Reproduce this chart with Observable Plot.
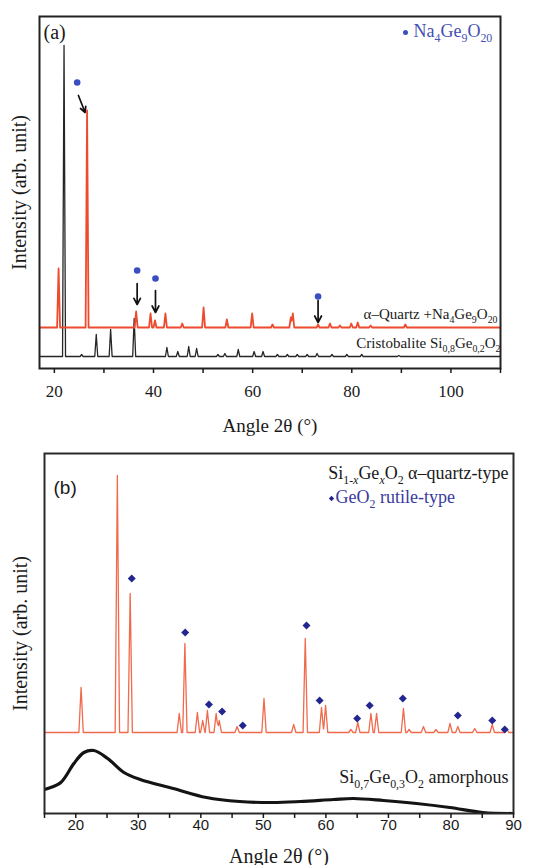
<!DOCTYPE html>
<html>
<head>
<meta charset="utf-8">
<script src="https://cdn.jsdelivr.net/npm/d3@7"></script>
<script src="https://cdn.jsdelivr.net/npm/@observablehq/plot@0.6"></script>
<style>
  html, body { margin: 0; padding: 0; background: #fff; width: 549px; height: 865px; overflow: hidden; }
  #chart svg { display: block; }
</style>
</head>
<body>
<div id="chart"></div>
<script>
// ---------- Panel (a) data ----------
const aDomain = [17, 110];
const aMajorTicks = [20, 40, 60, 80, 100];
const aMinorTicks = [30, 50, 70, 90, 110];
// Cristobalite Si0,8Ge0,2O2 (black trace)
const aCristoAngles  = [21.95, 25.5, 28.45, 31.35, 36.1, 42.7, 44.9, 47.1, 48.7, 53.0, 54.4, 57.1, 60.3, 62.1, 65.0, 67.0, 69.0, 71.0, 73.0, 76.0, 79.0, 82.0, 89.5];
const aCristoHeights = [311, 2, 22, 27, 38, 9, 5, 10, 8, 2, 3, 7, 5, 5, 2, 2, 2, 2, 3, 2, 2, 2, 1];
const aCristoBase = 12;
// alpha-Quartz + Na4Ge9O20 (red trace)
const aQuartzAngles  = [20.85, 26.6, 36.5, 39.4, 40.3, 42.4, 45.8, 50.1, 54.8, 59.9, 64.0, 67.7, 68.1, 73.2, 75.6, 77.6, 79.9, 81.2, 83.8, 90.8];
const aQuartzHeights = [59, 217, 16, 14, 7, 14, 4, 20, 8, 14, 3, 10, 14, 3, 4, 2, 4, 5, 2, 3];
const aQuartzBase = 41;
// Na4Ge9O20 markers and arrows
const aMarkerAngles = [24.6, 36.7, 40.4, 73.2];
const aMarkerLevels = [286, 98, 90, 72];
const aArrowX1 = [24.85, 36.7, 40.4, 73.2];
const aArrowY1 = [273, 85, 78, 68];
const aArrowX2 = [26.2, 36.7, 40.4, 73.2];
const aArrowY2 = [256, 64, 56, 46];

// ---------- Panel (b) data ----------
const bDomain = [15, 90];
const bMajorTicks = [20, 30, 40, 50, 60, 70, 80, 90];
const bMinorTicks = [15, 25, 35, 45, 55, 65, 75, 85];
// Crystalline pattern (red trace)
const bCrystAngles  = [20.85, 26.65, 28.7, 36.55, 37.45, 39.45, 40.3, 41.05, 42.45, 42.95, 45.8, 50.1, 54.85, 56.7, 59.3, 59.95, 64.0, 65.1, 67.2, 68.1, 72.4, 73.3, 75.6, 77.6, 79.85, 81.1, 83.8, 86.6, 88.9];
const bCrystHeights = [45, 257, 139, 19, 89, 20, 12, 22, 19, 12, 6, 34, 8, 94, 25, 27, 3, 10, 19, 19, 24, 3, 6, 3, 9, 6, 4, 8, 4];
const bCrystBase = 81;
// GeO2 rutile-type markers
const bRutileAngles = [28.95, 37.5, 41.3, 43.4, 46.7, 56.9, 59.0, 65.0, 67.0, 72.3, 81.1, 86.6, 88.6];
const bRutileLevels = [235, 181, 109, 102, 88, 188, 113, 95, 108, 115, 98, 93, 84];
// Si0,7Ge0,3O2 amorphous (black trace)
const bAmorphAngles = [15, 15.5, 17.6, 19.7, 21.3, 22.9, 25.1, 27.7, 30.3, 35.6, 40.9, 46.2, 51.5, 55.9, 61.2, 64.4, 69.2, 74.5, 79.8, 85.1, 90];
const bAmorphValues = [24, 25, 31, 50, 61, 63, 55, 41, 34, 25, 16, 12, 11, 12, 14, 15, 13, 10, 6, 1, 0];

// ---------- helpers ----------
const SERIF = "Liberation Serif, Times New Roman, Times, serif";
const SANS = "Liberation Sans, Arial, Helvetica, sans-serif";

function trace(angles, heights, base, hw, domain) {
  const xs = new Set(domain);
  angles.forEach(a => { xs.add(a - hw); xs.add(a); xs.add(a + hw); });
  return [...xs].filter(x => x >= domain[0] && x <= domain[1]).sort((p, q) => p - q)
    .map(x => ({x, y: base + d3.sum(angles, (a, i) => Math.max(0, heights[i] * (1 - Math.abs(x - a) / hw)))}));
}

function label(text, o) {
  return Plot.text([text], {text: d => d, lineAnchor: "bottom", fontFamily: SERIF, ...o});
}

const NS = "http://www.w3.org/2000/svg";
function applySubscripts(svg) {
  svg.querySelectorAll("text").forEach(t => {
    const s = t.textContent;
    if (!s.includes("_{")) return;
    const fs = parseFloat(getComputedStyle(t).fontSize) || 16;
    while (t.firstChild) t.removeChild(t.firstChild);
    const shift = 0.28 * fs;
    let down = false;
    s.split(/(_\{[^}]*\})/).forEach(p => {
      if (!p) return;
      const ts = document.createElementNS(NS, "tspan");
      if (p.startsWith("_{")) {
        ts.setAttribute("font-size", (0.66 * fs).toFixed(1) + "px");
        ts.setAttribute("dy", down ? 0 : shift);
        down = true;
        p.slice(2, -1).split(/(x)/).forEach(q => {
          if (!q) return;
          const inner = document.createElementNS(NS, "tspan");
          if (q === "x") inner.setAttribute("font-style", "italic");
          inner.textContent = q;
          ts.appendChild(inner);
        });
      } else {
        ts.setAttribute("dy", down ? -shift : 0);
        down = false;
        ts.textContent = p;
      }
      t.appendChild(ts);
    });
  });
}

// ---------- Panel (a) ----------
const red = "#ee4a2e";
const plotA = Plot.plot({
  width: 549, height: 437,
  marginTop: 16, marginLeft: 39, marginRight: 49, marginBottom: 69,
  x: {domain: aDomain},
  y: {domain: [0, 352], axis: null},
  style: {fontFamily: SERIF, background: "white", color: "#1a1a1a"},
  marks: [
    Plot.line(trace(aCristoAngles, aCristoHeights, aCristoBase, 0.3, aDomain), {x: "x", y: "y", stroke: "#262626", strokeWidth: 1.3, clip: true}),
    Plot.line(trace(aQuartzAngles, aQuartzHeights, aQuartzBase, 0.3, aDomain), {x: "x", y: "y", stroke: red, strokeWidth: 1.8, clip: true}),
    Plot.dot(aMarkerAngles, {x: d => d, y: (d, i) => aMarkerLevels[i], r: 3.3, fill: "#3a4ec2", stroke: null}),
    Plot.arrow(aArrowX1, {x1: d => d, y1: (d, i) => aArrowY1[i], x2: (d, i) => aArrowX2[i], y2: (d, i) => aArrowY2[i], stroke: "#111", strokeWidth: 1.7, headLength: 7, headAngle: 55}),
    Plot.frame({stroke: "#222", strokeWidth: 2}),
    Plot.axisX({ticks: aMajorTicks, tickSize: 5, tickPadding: 11, strokeWidth: 1.5, fontSize: 17, fontFamily: SERIF, label: null}),
    Plot.axisX({ticks: aMinorTicks, tickSize: 5, strokeWidth: 1.5, tickFormat: () => "", label: null}),
    label("Angle 2θ (°)", {frameAnchor: "bottom", textAnchor: "middle", dy: 63, fontSize: 19}),
    label("Intensity (arb. unit)", {frameAnchor: "left", textAnchor: "middle", lineAnchor: "middle", rotate: -90, dx: -20, fontSize: 20}),
    label("(a)", {frameAnchor: "top-left", textAnchor: "start", dx: 4, dy: 22, fontSize: 20}),
    Plot.dot([0], {frameAnchor: "top-right", dx: -95, dy: 16, r: 2.5, fill: "#3a4ec2", stroke: null}),
    label("Na_{4}Ge_{9}O_{20}", {frameAnchor: "top-right", textAnchor: "start", dx: -87, dy: 20, fontSize: 18, fill: "#4450b0"}),
    label("α–Quartz +Na_{4}Ge_{9}O_{20}", {frameAnchor: "bottom-right", textAnchor: "end", dx: -3, dy: -50, fontSize: 15}),
    label("Cristobalite Si_{0,8}Ge_{0,2}O_{2}", {frameAnchor: "bottom-right", textAnchor: "end", dx: 0, dy: -21, fontSize: 15})
  ]
});

// ---------- Panel (b) ----------
const redB = "#f06a4c";
const plotB = Plot.plot({
  width: 549, height: 428,
  marginTop: 16, marginLeft: 44, marginRight: 36, marginBottom: 52,
  x: {domain: bDomain},
  y: {domain: [0, 360], axis: null},
  style: {fontFamily: SERIF, background: "white", color: "#1a1a1a"},
  marks: [
    Plot.line(bAmorphAngles, {x: d => d, y: (d, i) => bAmorphValues[i], curve: "catmull-rom", stroke: "#141414", strokeWidth: 3.2, clip: true}),
    Plot.line(trace(bCrystAngles, bCrystHeights, bCrystBase, 0.35, bDomain), {x: "x", y: "y", stroke: redB, strokeWidth: 1.3, clip: true}),
    Plot.dot(bRutileAngles, {x: d => d, y: (d, i) => bRutileLevels[i], symbol: "diamond2", r: 3.6, fill: "#23268f", stroke: null}),
    Plot.frame({stroke: "#2a2a2a", strokeWidth: 2}),
    Plot.axisX({ticks: bMajorTicks, tickSize: 5, tickPadding: 1, strokeWidth: 1.5, fontSize: 15, fontFamily: SANS, label: null}),
    Plot.axisX({ticks: bMinorTicks, tickSize: 5, strokeWidth: 1.5, tickFormat: () => "", label: null}),
    label("Angle 2θ (°)", {frameAnchor: "bottom", textAnchor: "middle", dy: 49, fontSize: 20}),
    label("Intensity (arb. unit)", {frameAnchor: "left", textAnchor: "middle", lineAnchor: "middle", rotate: -90, dx: -24, fontSize: 20}),
    label("(b)", {frameAnchor: "top-left", textAnchor: "start", dx: 9, dy: 40, fontSize: 19, fontFamily: SANS}),
    label("Si_{1-x}Ge_{x}O_{2} α–quartz-type", {frameAnchor: "top-right", textAnchor: "end", dx: -5, dy: 25, fontSize: 18}),
    Plot.dot([0], {frameAnchor: "top-right", symbol: "diamond2", dx: -182, dy: 45, r: 2.4, fill: "#23268f", stroke: null}),
    label("GeO_{2} rutile-type", {frameAnchor: "top-right", textAnchor: "start", dx: -178, dy: 49, fontSize: 18, fill: "#3a3aa0"}),
    label("Si_{0,7}Ge_{0,3}O_{2} amorphous", {frameAnchor: "bottom-right", textAnchor: "end", dx: -5, dy: -31, fontSize: 18})
  ]
});

const chart = document.getElementById("chart");
chart.appendChild(plotA);
chart.appendChild(plotB);
applySubscripts(plotA);
applySubscripts(plotB);
</script>
</body>
</html>
